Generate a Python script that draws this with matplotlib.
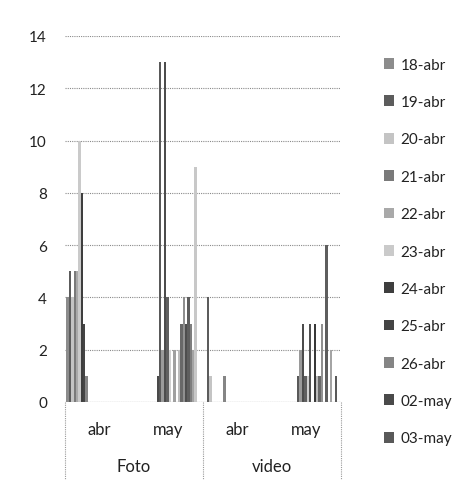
import matplotlib
matplotlib.use("Agg")
import matplotlib.pyplot as plt
from matplotlib.transforms import blended_transform_factory

plt.rcParams['font.family'] = ['Lato', 'DejaVu Sans']

# categories (month within media type)
months = ['abr', 'may', 'abr', 'may']
groups = ['Foto', 'video']

# one series per day
days = ['18-abr', '19-abr', '20-abr', '21-abr', '22-abr', '23-abr', '24-abr',
        '25-abr', '26-abr',
        '02-may', '03-may', '04-may', '05-may', '06-may', '07-may', '08-may',
        '09-may', '10-may', '11-may', '12-may', '13-may', '14-may', '15-may',
        '16-may', '17-may', '18-may', '19-may', '20-may']

# values per category, one number per day
foto_abr = [4, 5, 4, 5, 5, 10, 8, 3, 1] + [0] * 19
foto_may = [0] * 9 + [1, 13, 2, 13, 4, 2, 0, 2, 0, 2, 3, 4, 3, 4, 3, 2, 9, 0, 0]
video_abr = [0, 4, 1, 0, 0, 0, 0, 0, 1] + [0] * 19
video_may = [0] * 9 + [0, 1, 2, 3, 1, 1, 3, 0, 3, 1, 1, 3, 0, 6, 0, 2, 0, 1, 0]

grays = ['#8c8c8c', '#5c5c5c', '#c4c4c4', '#7a7a7a', '#a9a9a9', '#cacaca',
         '#3e3e3e', '#444444', '#858585', '#4a4a4a', '#595959', '#9a9a9a',
         '#4c4c4c', '#606060', '#d0d0d0', '#505050', '#a0a0a0', '#383838',
         '#bcbcbc', '#686868', '#909090', '#4e4e4e', '#5e5e5e', '#7e7e7e',
         '#a4a4a4', '#c8c8c8', '#5a5a5a', '#969696']

fig = plt.figure(figsize=(4.68, 4.85), dpi=100)
ax = fig.add_axes([65 / 468, 1 - 403 / 485, 276 / 468, 366 / 485])

n = len(days)
cluster = 0.957
w = cluster / n
xs = range(len(months))
bars = []
for i, day in enumerate(days):
    vals = [foto_abr[i], foto_may[i], video_abr[i], video_may[i]]
    pos = [c - cluster / 2 + w * (i + 0.5) for c in xs]
    b = ax.bar(pos, vals, width=w, color=grays[i], edgecolor='none', label=day)
    bars.append(b)

ax.set_xlim(-0.5, 3.5)
ax.set_ylim(0, 14)
ax.set_yticks(range(0, 15, 2))
ax.tick_params(axis='y', length=0, pad=13, labelsize=11, labelcolor='#222222')
ax.set_xticks([])
for s in ax.spines.values():
    s.set_visible(False)
ax.yaxis.grid(True, linestyle=(0, (1, 1)), color='#8a8a8a', linewidth=0.8)
ax.set_axisbelow(True)
ax.axhline(0, color='#9a9a9a', linewidth=0.8)

# two-level category axis
tr = blended_transform_factory(ax.transData, ax.transAxes)
for c, m in enumerate(months):
    ax.text(c, -0.074, m, transform=tr, ha='center', va='center',
            fontsize=12, color='#222222')
for g, name in enumerate(groups):
    ax.text(2 * g + 0.5, -0.175, name, transform=tr, ha='center', va='center',
            fontsize=12, color='#222222')
for xb in [-0.5, 1.5, 3.5]:
    ax.plot([xb, xb], [0, -0.21], transform=tr, color='#9a9a9a',
            linestyle=(0, (1, 1)), linewidth=0.8, clip_on=False)

# Excel cut the legend after eleven entries
leg = fig.legend(handles=bars[:11], labels=days[:11], loc='upper left',
                 bbox_to_anchor=(370 / 468, 1 - 45 / 485), frameon=False,
                 fontsize=11, handlelength=0.7, handleheight=0.7,
                 handletextpad=0.4, labelspacing=1.53)
for t in leg.get_texts():
    t.set_color('#222222')

fig.savefig('out.png', dpi=100, facecolor='white')
